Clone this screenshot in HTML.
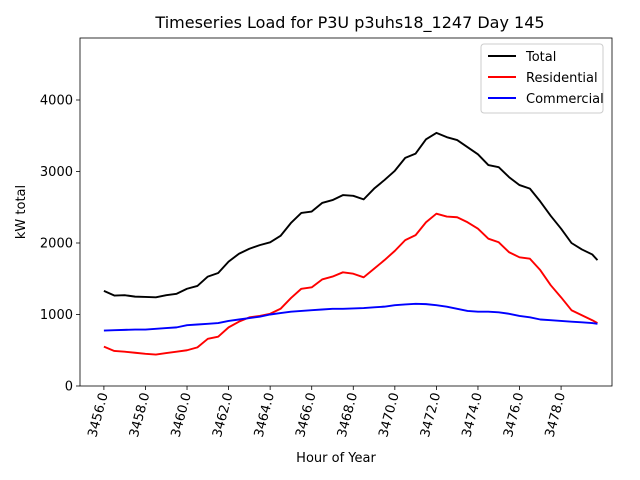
<!DOCTYPE html>
<html><head><meta charset="utf-8"><style>body{margin:0;background:#fff}svg{display:block;font-family:"DejaVu Sans","Liberation Sans",sans-serif}</style></head>
<body>
<svg id="chart" width="640" height="480" viewBox="0 0 640 480">
<rect width="640" height="480" fill="#fff"/>
<text x="350" y="28" font-size="16" text-anchor="middle">Timeseries Load for P3U p3uhs18_1247  Day 145</text>
<g id="plot"></g>
<text x="336" y="462" font-size="13" text-anchor="middle">Hour of Year</text>
<text transform="translate(25,212) rotate(-90)" font-size="13" text-anchor="middle">kW total</text>
<g>
<rect x="481" y="44" width="122" height="69" fill="#fff" stroke="#ccc" rx="3"/>
<line x1="488" y1="56" x2="516" y2="56" stroke="#000" stroke-width="2"/><text x="526" y="61" font-size="13">Total</text>
<line x1="488" y1="77" x2="516" y2="77" stroke="#f00" stroke-width="2"/><text x="526" y="82" font-size="13">Residential</text>
<line x1="488" y1="98" x2="516" y2="98" stroke="#00f" stroke-width="2"/><text x="526" y="103" font-size="13">Commercial</text>
</g>
</svg>
<script>
const hours=[3456,3456.5,3457,3457.5,3458,3458.5,3459,3459.5,3460,3460.5,3461,3461.5,3462,3462.5,3463,3463.5,3464,3464.5,3465,3465.5,3466,3466.5,3467,3467.5,3468,3468.5,3469,3469.5,3470,3470.5,3471,3471.5,3472,3472.5,3473,3473.5,3474,3474.5,3475,3475.5,3476,3476.5,3477,3477.5,3478,3478.5,3479,3479.5,3479.75];
const total=[1330,1265,1270,1250,1245,1240,1270,1290,1360,1400,1530,1580,1740,1850,1920,1970,2010,2100,2280,2420,2440,2560,2600,2670,2660,2610,2760,2880,3010,3190,3250,3450,3540,3480,3440,3340,3240,3090,3060,2920,2810,2760,2580,2380,2200,2000,1910,1840,1760];
const residential=[550,490,480,465,450,440,460,480,500,540,660,690,820,900,960,980,1010,1080,1230,1360,1380,1490,1530,1590,1570,1520,1640,1760,1890,2040,2110,2290,2410,2370,2360,2290,2200,2060,2010,1870,1800,1780,1620,1410,1240,1060,990,920,880];
const commercial=[775,780,785,790,790,800,810,820,850,860,870,880,910,930,950,970,1000,1020,1040,1050,1060,1070,1080,1080,1085,1090,1100,1110,1130,1140,1150,1145,1130,1110,1080,1050,1040,1040,1030,1010,980,960,930,920,910,900,890,880,870];
const xTicks=[3456,3458,3460,3462,3464,3466,3468,3470,3472,3474,3476,3478];
const xTickLabels=["3456.0","3458.0","3460.0","3462.0","3464.0","3466.0","3468.0","3470.0","3472.0","3474.0","3476.0","3478.0"];
const yTicks=[0,1000,2000,3000,4000];
const yTickLabels=["0","1000","2000","3000","4000"];
const L=80,R=612,T=38,B=386,XMIN=3454.85,XMAX=3480.45,YMIN=0,YMAX=4867;
const sx=v=>L+(v-XMIN)/(XMAX-XMIN)*(R-L);
const sy=v=>B-(v-YMIN)/(YMAX-YMIN)*(B-T);
const NS="http://www.w3.org/2000/svg";
const g=document.getElementById('plot');
function mk(t,a,p){const e=document.createElementNS(NS,t);for(const k in a)e.setAttribute(k,a[k]);(p||g).appendChild(e);return e;}
xTicks.forEach((v,i)=>{
 const x=sx(v);
 const tk=mk('line',{x1:x,y1:B,x2:x,y2:B+4,stroke:'#000','stroke-width':0.8});
 
 
 const t=mk('text',{transform:`translate(${x+4},${B+8}) rotate(-75)`,'font-size':13,'text-anchor':'end'});
 
 
 t.textContent=xTickLabels[i];
});
yTicks.forEach((v,i)=>{
 const y=sy(v);
 const tk=mk('line',{x1:L-4,y1:y,x2:L,y2:y,stroke:'#000','stroke-width':0.8});
 
 
 const t=mk('text',{x:L-7,y:y+4.5,'font-size':13,'text-anchor':'end'});
 
 
 t.textContent=yTickLabels[i];
});
function line(vals,color,name){
 const p=mk('polyline',{points:vals.map((v,i)=>sx(hours[i])+','+sy(v)).join(' '),fill:'none',stroke:color,'stroke-width':1.9,'stroke-linejoin':'round'});
 
 
}
line(total,'#000','total-line');
line(residential,'#f00','residential-line');
line(commercial,'#00f','commercial-line');
const fr=mk('rect',{x:L,y:T,width:R-L,height:B-T,fill:'none',stroke:'#000','stroke-width':0.8});


</script>
</body></html>
